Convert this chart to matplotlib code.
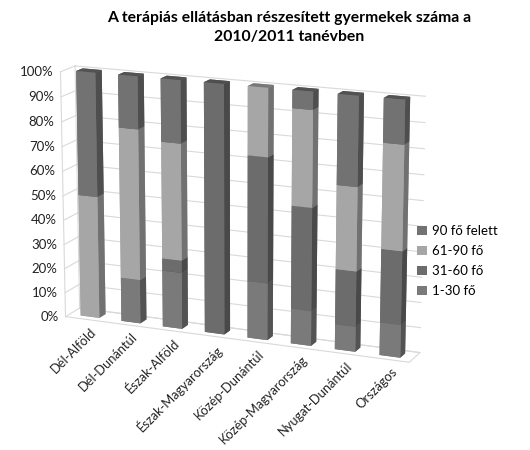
import matplotlib
matplotlib.use("Agg")
import matplotlib.pyplot as plt
import numpy as np
from matplotlib.patches import Patch
from mpl_toolkits.mplot3d import proj3d

plt.rcParams["font.family"] = ["Lato", "DejaVu Sans"]

categories = ["Dél-Alföld", "Dél-Dunántúl", "Észak-Alföld", "Észak-Magyarország",
              "Közép-Dunántúl", "Közép-Magyarország", "Nyugat-Dunántúl", "Országos"]
s_1_30 = [0, 18, 23, 0, 23, 14, 10, 13]
s_31_60 = [0, 0, 5, 100, 50, 41, 22, 29]
s_61_90 = [50, 61, 47, 0, 27, 38, 33, 41]
s_90_up = [50, 21, 25, 0, 0, 7, 35, 17]
series_names = ["1-30 fő", "31-60 fő", "61-90 fő", "90 fő felett"]
series_colors = ["#7a7a7a", "#6c6c6c", "#a6a6a6", "#727272"]
z_ticks = [0, 10, 20, 30, 40, 50, 60, 70, 80, 90, 100]

GRID = "#d9d9d9"


def shade(hexcol, f):
    r, g, b = matplotlib.colors.to_rgb(hexcol)
    return (r * f, g * f, b * f)


fig = plt.figure(figsize=(5.3, 4.5), dpi=100)
ax = fig.add_axes([0.02, 0.09, 0.84, 0.86], projection="3d", computed_zorder=False)
ax.set_proj_type("persp", focal_length=1.1)
ax.view_init(elev=15, azim=-67)
ax.set_box_aspect((9.3, 0.8, 6.4), zoom=1.15)
ax.set_axis_off()

n = len(categories)
ax.set_xlim(0, n)
ax.set_ylim(0, 1)
ax.set_zlim(0, 100)

# walls: back-wall and left-wall gridlines
for z in z_ticks:
    ax.plot([0, n], [1, 1], [z, z], color=GRID, lw=0.8, zorder=1)
    ax.plot([0, 0], [0, 1], [z, z], color=GRID, lw=0.8, zorder=1)
ax.plot([0, 0], [0, 0], [0, 100], color=GRID, lw=0.8, zorder=1)
ax.plot([0, 0], [1, 1], [0, 100], color=GRID, lw=0.8, zorder=1)
# floor outline
ax.plot([0, n, n, 0], [0, 0, 1, 1], [0, 0, 0, 0], color=GRID, lw=0.8, zorder=1)

# stacked 3D bars
xs, ys, zs, dxs, dys, dzs, fcols = [], [], [], [], [], [], []
stack = [s_1_30, s_31_60, s_61_90, s_90_up]
bottoms = np.zeros(n)
for vals, col in zip(stack, series_colors):
    for i, v in enumerate(vals):
        if v <= 0:
            continue
        xs.append(i + 0.27)
        ys.append(0.3)
        zs.append(bottoms[i])
        dxs.append(0.46)
        dys.append(0.45)
        dzs.append(v)
        # face order: -z, +z, -y, +y, -x, +x
        fcols += [col, shade(col, 0.72), col, col, col, shade(col, 0.68)]
    bottoms += np.array(vals, dtype=float)

ax.bar3d(xs, ys, zs, dxs, dys, dzs, color=fcols, shade=False,
         edgecolor="none", zorder=2)

M = ax.get_proj()
for z in z_ticks:
    x2, y2, _ = proj3d.proj_transform(0, 0, z, M)
    ax.annotate(f"{z}%", xy=(x2, y2), xycoords="data", xytext=(-5, 0),
                textcoords="offset points", ha="right", va="center",
                fontsize=9.5, color="#222222", annotation_clip=False)
for i, c in enumerate(categories):
    x2, y2, _ = proj3d.proj_transform(i + 0.6, 0, 0, M)
    ax.annotate(c, xy=(x2, y2), xycoords="data", xytext=(0, -4),
                textcoords="offset points", ha="right", va="top",
                rotation=45, rotation_mode="anchor", fontsize=9.3, color="#222222",
                annotation_clip=False)

fig.suptitle("A terápiás ellátásban részesített gyermekek száma a\n2010/2011 tanévben",
             x=0.545, y=0.975, fontsize=11.3, fontweight="bold", linespacing=1.4)

handles = [Patch(facecolor=series_colors[k], edgecolor="none") for k in range(4)][::-1]
fig.legend(handles, series_names[::-1], loc="center left", bbox_to_anchor=(0.765, 0.42),
           frameon=False, fontsize=9.5, handlelength=0.7, handleheight=0.7,
           handletextpad=0.4, labelspacing=0.6)

fig.savefig("out.png", dpi=100)
